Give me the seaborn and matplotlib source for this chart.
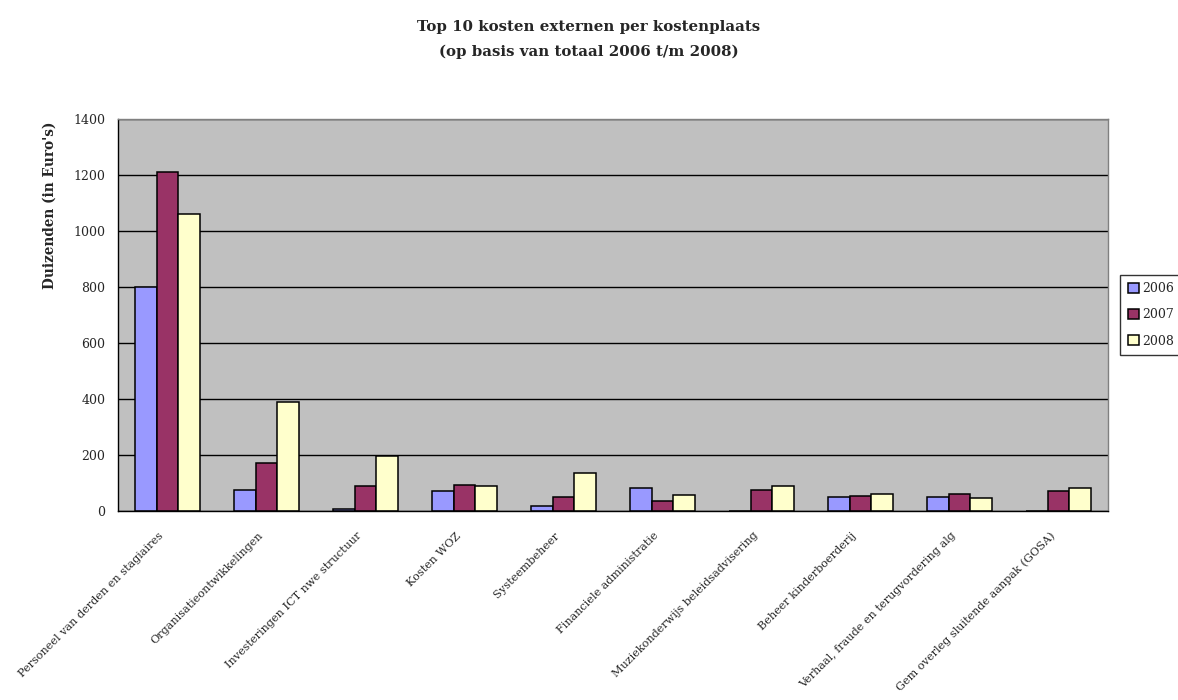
import matplotlib
matplotlib.use("Agg")
import matplotlib.pyplot as plt
import matplotlib.transforms as mtransforms
import seaborn as sns
import pandas as pd
from matplotlib.ticker import FixedLocator

categories = [
    "Personeel van derden en stagiaires",
    "Organisatieontwikkelingen",
    "Investeringen ICT nwe structuur",
    "Kosten WOZ",
    "Systeembeheer",
    "Financiele administratie",
    "Muziekonderwijs beleidsadvisering",
    "Beheer kinderboerderij",
    "Verhaal, fraude en terugvordering alg",
    "Gem overleg sluitende aanpak (GOSA)",
]
years = ["2006", "2007", "2008"]
values_2006 = [800, 75, 7, 72, 18, 81, 0, 49, 50, 0]
values_2007 = [1210, 170, 88, 93, 50, 36, 76, 52, 60, 71]
values_2008 = [1060, 390, 197, 89, 135, 56, 90, 61, 45, 83]
yticks = [0, 200, 400, 600, 800, 1000, 1200, 1400]

colors = {"2006": "#9999FF", "2007": "#993366", "2008": "#FFFFCC"}

rows = []
for yr, vals in zip(years, [values_2006, values_2007, values_2008]):
    for c, v in zip(categories, vals):
        rows.append({"cat": c, "year": yr, "value": v})
df = pd.DataFrame(rows)

sns.set_style("white")
plt.rcParams["font.family"] = ["DejaVu Serif"]

fig = plt.figure(figsize=(11.78, 7.0), dpi=100)
ax = fig.add_axes([118 / 1178, 1 - 511 / 700, (1108 - 118) / 1178, (511 - 119) / 700])
ax.set_facecolor("#C0C0C0")

sns.barplot(data=df, x="cat", y="value", hue="year", order=categories,
            hue_order=years, palette=colors, width=0.66, edgecolor="black",
            linewidth=1.1, ax=ax, saturation=1, errorbar=None)

ax.set_axisbelow(True)
ax.set_ylim(0, 1400)
ax.set_xlim(-0.5, len(categories) - 0.5)
ax.set_yticks(yticks)
ax.set_yticklabels([str(t) for t in yticks], fontsize=9)
ax.yaxis.grid(True, color="black", linewidth=1.0)
ax.xaxis.grid(False)

ax.set_xticks(range(len(categories)))
ax.set_xticklabels(categories, rotation=45, ha="right", rotation_mode="anchor",
                   fontsize=8.1)
ax.tick_params(axis="x", which="major", length=0, pad=14)
offset = mtransforms.ScaledTranslation(-9 / 100, 0, fig.dpi_scale_trans)
for lbl in ax.get_xticklabels():
    lbl.set_transform(lbl.get_transform() + offset)
ax.xaxis.set_minor_locator(FixedLocator([i - 0.5 for i in range(len(categories) + 1)]))
ax.tick_params(axis="x", which="minor", length=5, width=1, color="black", direction="out")
ax.tick_params(axis="y", which="major", length=5, width=1, color="black", direction="out", pad=4)

ax.set_xlabel("")
ax.set_ylabel("Duizenden (in Euro's)", fontsize=9.8, fontweight="bold", labelpad=12)
ax.yaxis.set_label_coords(-0.062, (511 - 205) / 392)

for s in ["top", "right"]:
    ax.spines[s].set_color("#808080")
    ax.spines[s].set_linewidth(1.0)
for s in ["left", "bottom"]:
    ax.spines[s].set_color("black")
    ax.spines[s].set_linewidth(1.0)

handles, labels = ax.get_legend_handles_labels()
if ax.get_legend() is not None:
    ax.get_legend().remove()
leg = fig.legend(handles, labels, loc="center left",
                 bbox_to_anchor=(1120 / 1178, 1 - 315 / 700),
                 frameon=True, fancybox=False, fontsize=9,
                 handlelength=0.9, handleheight=0.9, handletextpad=0.3,
                 borderpad=0.6, labelspacing=1.05, borderaxespad=0)
leg.get_frame().set_edgecolor("black")
leg.get_frame().set_linewidth(1.0)

fig.text(0.5, 1 - 39.5 / 700, "Top 10 kosten externen per kostenplaats\n(op basis van totaal 2006 t/m 2008)",
         ha="center", va="center", fontsize=10.8, fontweight="bold", linespacing=1.9)

fig.savefig("out.png", dpi=100, facecolor="white")
